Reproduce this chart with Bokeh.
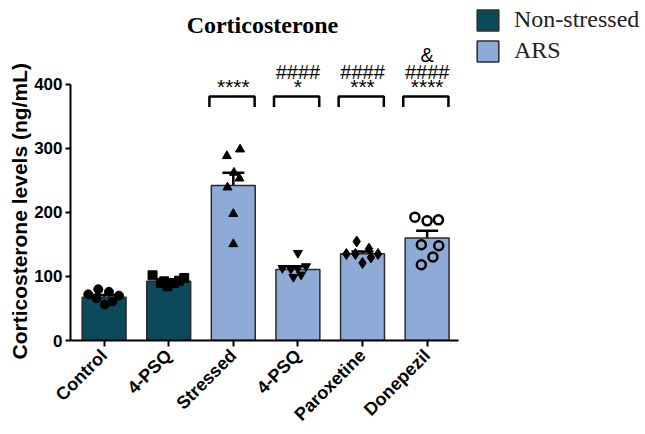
import math
from bokeh.plotting import figure
from bokeh.models import (Range1d, FixedTicker, ColumnDataSource, Legend, LegendItem,
                          Whisker, TeeHead, Label, Title)
from bokeh.embed import file_html
from bokeh.resources import INLINE
from bokeh.core.properties import value

# ---------------- data ----------------
categories = ["Control", "4-PSQ", "Stressed", "4-PSQ", "Paroxetine", "Donepezil"]
groups = ["Non-stressed", "Non-stressed", "ARS", "ARS", "ARS", "ARS"]
means = [67.5, 92.5, 242.0, 111.0, 135.5, 159.8]
sems = [3.5, 2.5, 20.0, 5.0, 3.5, 11.5]

control_pts = [72, 80, 76, 70, 66, 56, 61]
psq_pts = [101.7, 89.8, 84.5, 89.8, 97.6, 92.3, 93.4]
stressed_pts = [288, 298.4, 262, 253, 239, 197.7, 150.5]
psq_ars_pts = [136.5, 113, 111.6, 113, 115.7, 99, 102.7]
parox_pts = [154.6, 135, 135, 143.2, 135, 129.7, 121]
donep_pts = [192.5, 186.8, 188.3, 149.4, 147.9, 130.3, 118.3]
point_values = [control_pts, psq_pts, stressed_pts, psq_ars_pts, parox_pts, donep_pts]

# horizontal scatter of the individual points (category units)
control_jit = [-0.245, -0.09, 0.075, 0.23, -0.12, 0.01, 0.13]
psq_jit = [-0.25, -0.12, -0.02, 0.08, 0.24, -0.07, 0.16]
stressed_jit = [-0.1, 0.105, 0.01, 0.095, -0.09, 0.0, 0.0]
psq_ars_jit = [0.0, -0.24, -0.11, 0.0, 0.125, -0.07, 0.05]
parox_jit = [-0.09, -0.25, -0.11, 0.1, 0.24, 0.13, 0.0]
donep_jit = [-0.19, 0.0, 0.175, -0.09, 0.18, 0.09, -0.09]
point_jitter = [control_jit, psq_jit, stressed_jit, psq_ars_jit, parox_jit, donep_jit]

sig_index = [2, 3, 4, 5]
sig_stars = ["****", "*", "***", "****"]
sig_hash = ["", "####", "####", "####"]
sig_amp = ["", "", "", "&"]

y_ticks = [0, 100, 200, 300, 400]

# ---------------- style ----------------
colors = {"Non-stressed": "#0c4a5b", "ARS": "#8eabd7"}
markers = ["circle", "square", "triangle", "inverted_triangle", "diamond", "circle"]
msizes = [9, 9, 9, 9, 11, 9]
hollow = [False, False, False, False, False, True]

W, H = 645, 434
p = figure(width=W, height=H, output_backend="svg", toolbar_location=None,
           x_range=Range1d(-0.52, 8.38), y_range=Range1d(0, 530.7),
           min_border_left=70, min_border_right=0, min_border_top=0, min_border_bottom=93)
p.outline_line_color = None
p.background_fill_color = None
p.border_fill_color = "white"
p.xgrid.visible = False
p.ygrid.visible = False

idx = list(range(len(categories)))

# bars
for g in ["Non-stressed", "ARS"]:
    sel = [i for i in idx if groups[i] == g]
    src = ColumnDataSource(dict(x=sel, top=[means[i] for i in sel]))
    r = p.vbar(x="x", top="top", bottom=0, width=0.68, source=src,
               fill_color=colors[g], line_color="#2b2b2b", line_width=1.5)
    if g == "Non-stressed":
        r_ns = r
    else:
        r_ars = r

# error bars (mean +/- SEM)
esrc = ColumnDataSource(dict(x=idx, upper=[m + s for m, s in zip(means, sems)],
                             lower=[m - s for m, s in zip(means, sems)]))
p.add_layout(Whisker(base="x", upper="upper", lower="lower", source=esrc, dimension="height",
                     line_color="black", line_width=2.5,
                     upper_head=TeeHead(size=22, line_color="black", line_width=2.5),
                     lower_head=TeeHead(size=22, line_color="black", line_width=2.5)))

# individual points
for i in idx:
    xs = [i + j for j in point_jitter[i]]
    ys = point_values[i]
    if hollow[i]:
        p.scatter(xs, ys, marker=markers[i], size=msizes[i], fill_color=None,
                  line_color="black", line_width=2.5)
    else:
        p.scatter(xs, ys, marker=markers[i], size=msizes[i], fill_color="black",
                  line_color="black", line_width=1)

# significance brackets
b_top, b_bot = 381, 364.5
bx = [[i - 0.37, i - 0.37, i + 0.33, i + 0.33] for i in sig_index]
by = [[b_bot, b_top, b_top, b_bot] for _ in sig_index]
p.multi_line(bx, by, line_color="black", line_width=2.5)

font = value("Liberation Sans")
p.text(x=sig_index, y=[397] * len(sig_index), text=sig_stars, text_font=font,
       text_font_size="21px", text_align="center", text_baseline="alphabetic", text_color="black")
p.text(x=sig_index, y=[419] * len(sig_index), text=sig_hash, text_font=font,
       text_font_size="20px", text_align="center", text_baseline="alphabetic", text_color="black")
p.text(x=sig_index, y=[445] * len(sig_index), text=sig_amp, text_font=font,
       text_font_size="20px", text_align="center", text_baseline="alphabetic", text_color="black")

# title
p.add_layout(Label(x=2.45, y=491.8, text="Corticosterone", text_font="Liberation Serif",
                   text_font_style="bold", text_font_size="24px", text_align="center",
                   text_baseline="middle", text_color="black"))

# y-axis title, starting just below the axis end like the reference
p.add_layout(Title(text="Corticosterone levels (ng/mL)", align="left", offset=-19, standoff=2,
                   text_font="Liberation Sans", text_font_style="bold", text_font_size="21px",
                   text_color="black"), "left")

# axes
xa = p.xaxis[0]
xa.ticker = FixedTicker(ticks=idx)
xa.major_label_overrides = {i: c for i, c in enumerate(categories)}
xa.bounds = (-0.52, 5.49)
xa.major_label_orientation = math.pi / 4
xa.major_label_text_font = "Liberation Sans"
xa.major_label_text_font_style = "bold"
xa.major_label_text_font_size = "18px"
xa.major_label_text_color = "black"
xa.major_label_standoff = 6
xa.axis_line_width = 2
xa.axis_line_color = "black"
xa.major_tick_line_width = 2
xa.major_tick_line_color = "black"
xa.major_tick_out = 6
xa.major_tick_in = 0
xa.minor_tick_line_color = None

ya = p.yaxis[0]
ya.ticker = FixedTicker(ticks=y_ticks)
ya.bounds = (0, 400)
ya.major_label_text_font = "Liberation Sans"
ya.major_label_text_font_style = "bold"
ya.major_label_text_font_size = "17px"
ya.major_label_text_color = "black"
ya.major_label_standoff = 3
ya.axis_line_width = 2
ya.axis_line_color = "black"
ya.major_tick_line_width = 2
ya.major_tick_line_color = "black"
ya.major_tick_out = 5
ya.major_tick_in = 0
ya.minor_tick_line_color = None

# legend
legend = Legend(items=[LegendItem(label="Non-stressed", renderers=[r_ns]),
                       LegendItem(label="ARS", renderers=[r_ars])],
                location=(404, 276), orientation="vertical",
                glyph_width=27, glyph_height=26, spacing=4, label_standoff=13,
                padding=0, margin=0, border_line_color=None, background_fill_alpha=0,
                label_text_font="Liberation Serif", label_text_font_size="24px",
                label_text_color="#222222")
p.add_layout(legend)

open("out.html", "w").write(file_html(p, INLINE))
